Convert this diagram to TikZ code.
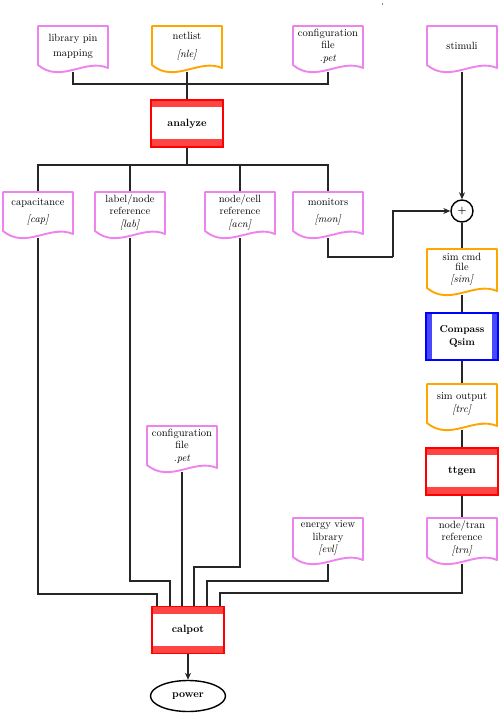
\documentclass[tikz,border=0pt]{standalone}
\usetikzlibrary{calc,shapes.geometric,arrows.meta,backgrounds}
\definecolor{docv}{HTML}{EE82EE}
\definecolor{doco}{HTML}{FFA500}
\definecolor{bandr}{HTML}{FF4444}
\definecolor{bandb}{HTML}{4848FF}
\tikzset{
  docnode/.style={rectangle, minimum width=70pt, minimum height=46pt, inner sep=0pt, outer sep=0pt},
  doctext/.style={align=center, font=\fontsize{10.5}{12.5}\selectfont, inner sep=0pt},
  wire/.style={line width=1.4pt, draw=black!85},
  arrowwire/.style={wire, -{Stealth[length=7pt,width=6pt]}},
  prog/.style={rectangle, minimum width=72pt, minimum height=47pt, inner sep=0pt, outer sep=0pt,
    font=\fontsize{10.5}{13}\selectfont\bfseries, align=center, line width=1.9pt, fill=white},
  redprog/.style={prog, draw=red, path picture={
    \fill[bandr] (path picture bounding box.north west) rectangle ($(path picture bounding box.north east)+(0,-7pt)$);
    \fill[bandr] (path picture bounding box.south west) rectangle ($(path picture bounding box.south east)+(0,8pt)$);}},
  blueprog/.style={prog, draw=blue, path picture={
    \fill[bandb] (path picture bounding box.north west) rectangle ($(path picture bounding box.south west)+(6pt,0)$);
    \fill[bandb] (path picture bounding box.north east) rectangle ($(path picture bounding box.south east)+(-6pt,0)$);}},
}
\newcommand\mkdoc[5]{%
  \node[docnode] (#1) at (#2) {};
  \draw[#3, line width=1.9pt, fill=white, line join=round]
    (#1.north west) -- (#1.north east) -- ($(#1.south east)+(0,4pt)$)
    .. controls ($(#1.south east)+(-23pt,14pt)$) and ($(#1.south west)+(23pt,-12pt)$) ..
    ($(#1.south west)+(0,7pt)$) -- cycle;
  \node[doctext] (#1-t) at ($(#1.center)+(0,3pt)$) {#4};
}
\begin{document}
\begin{tikzpicture}[x=1pt,y=-1pt]
\useasboundingbox (0,0) rectangle (500,715);
\fill[gray] (381.5,3) rectangle (383,4.5);
% documents
\mkdoc{lib}{73,49}{docv}{library pin\\[2.5pt]mapping}{}
\mkdoc{nle}{187,49}{doco}{netlist\\[5pt]\textit{[nle]}}{}
\mkdoc{pet1}{328,49}{docv}{configuration\\file\\\textit{.pet}}{}
\mkdoc{stim}{462,49}{docv}{stimuli}{}
\mkdoc{cap}{38,215}{docv}{capacitance\\[5pt]\textit{[cap]}}{}
\mkdoc{lab}{130,215}{docv}{label/node\\reference\\\textit{[lab]}}{}
\mkdoc{acn}{240,215}{docv}{node/cell\\reference\\\textit{[acn]}}{}
\mkdoc{mon}{328,215}{docv}{monitors\\[5pt]\textit{[mon]}}{}
\mkdoc{sim}{462,272}{doco}{sim cmd\\[-2.5pt]file\\[-1pt]\textit{[sim]}}{}
\mkdoc{trc}{462,407}{doco}{sim output\\[1pt]\textit{[trc]}}{}
\mkdoc{pet2}{182,449}{docv}{configuration\\file\\\textit{.pet}}{}
\mkdoc{evl}{328,541}{docv}{energy view\\library\\\textit{[evl]}}{}
\mkdoc{trn}{462,541}{docv}{node/tran\\reference\\\textit{[trn]}}{}
% programs
\node[redprog] (ana) at (187,123.5) {analyze};
\node[blueprog, font=\fontsize{10}{13}\selectfont\bfseries] (qsim) at (462,336.5) {Compass\\Qsim};
\node[redprog] (ttgen) at (462,471.5) {ttgen};
\node[redprog] (cal) at (188,630) {calpot};
\node[circle, draw, line width=1.4pt, minimum size=22pt, inner sep=0pt, font=\bfseries] (sum) at (462,211) {+};
\node[ellipse, draw, line width=1.4pt, minimum width=75pt, minimum height=31pt, inner sep=0pt, font=\fontsize{10.5}{12}\selectfont\bfseries] (power) at (188,696) {power};
% junction coordinates
\coordinate (j1) at (187,84);
\coordinate (j2) at (187,165);
\coordinate (j3) at (393,257);
\coordinate (h1) at (157,594);
\coordinate (h2) at (170,581);
\coordinate (h4) at (194,567);
\coordinate (h5) at (207,581);
\coordinate (h6) at (220,593);
\begin{scope}[on background layer]
  \draw[wire] (lib.south) |- (j1) -| (pet1.south);
  \draw[wire] (nle.south) -- (ana.north);
  \draw[wire] (ana.south) -- (j2);
  \draw[wire] (cap.north) |- (j2) -| (mon.north);
  \draw[wire] (lab.north) -- (lab.north |- j2);
  \draw[wire] (acn.north) -- (acn.north |- j2);
  \draw[wire] (mon.south) |- (j3);
  \draw[wire] (sum.south) -- (sim.north);
  \draw[wire] (sim.south) -- (qsim.north);
  \draw[wire] (qsim.south) -- (trc.north);
  \draw[wire] (trc.south) -- (ttgen.north);
  \draw[wire] (ttgen.south) -- (trn.north);
  \draw[wire] (cap.south) |- (h1) -- (h1 |- cal.north);
  \draw[wire] (lab.south) |- (h2) -- (h2 |- cal.north);
  \draw[wire] (pet2.south) -- (pet2.south |- cal.north);
  \draw[wire] (acn.south) |- (h4) -- (h4 |- cal.north);
  \draw[wire] (evl.south) |- (h5) -- (h5 |- cal.north);
  \draw[wire] (trn.south) |- (h6) -- (h6 |- cal.north);
\end{scope}
\draw[arrowwire] (stim.south) -- (sum.north);
\draw[arrowwire] (j3) |- (sum.west);
\draw[arrowwire] (cal.south) -- (power.north);
\end{tikzpicture}
\end{document}
